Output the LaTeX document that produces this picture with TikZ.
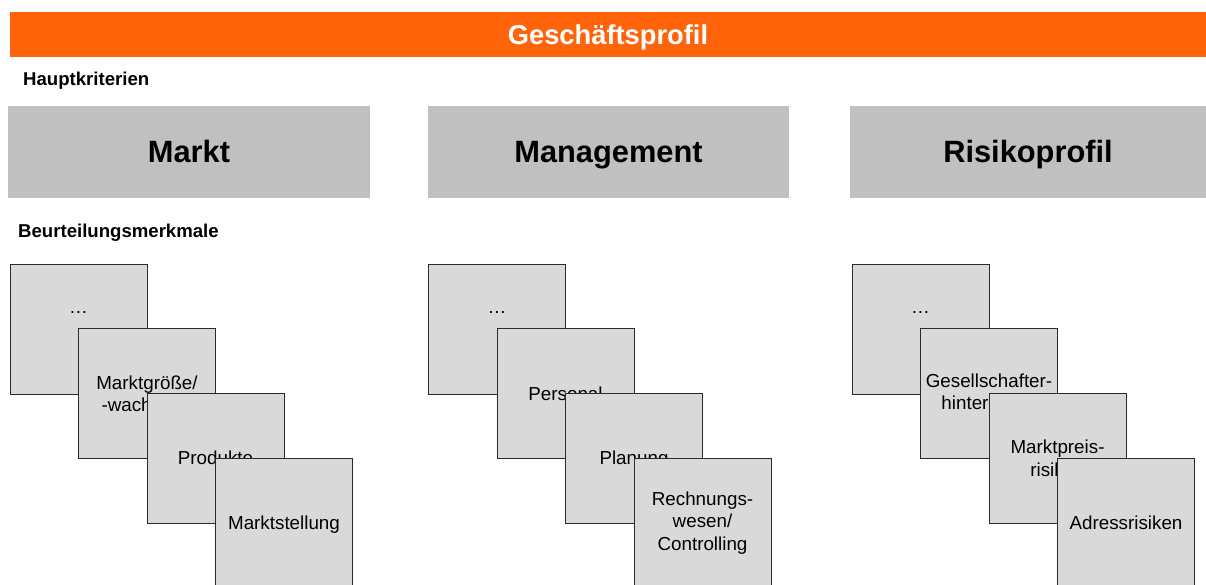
\documentclass[tikz,border=0pt]{standalone}
\usepackage{fontspec}
\setmainfont{Liberation Sans}
\definecolor{orangebar}{HTML}{FF640A}
\definecolor{bigbox}{HTML}{C0C0C0}
\definecolor{smallbox}{HTML}{D9D9D9}
\definecolor{edge}{HTML}{2A2A2A}
\begin{document}
\begin{tikzpicture}[x=1pt,y=-1pt,
  titlebar/.style={fill=orangebar,minimum width=1196pt,minimum height=45pt,inner sep=0pt,outer sep=0pt,anchor=north west,text=white,text height=20pt,text depth=0pt,font=\bfseries\fontsize{27.3}{30}\selectfont},
  crit/.style={fill=bigbox,minimum height=92pt,inner sep=0pt,outer sep=0pt,anchor=north west,text height=22pt,text depth=0pt,font=\bfseries\fontsize{30.8}{34}\selectfont},
  sect/.style={anchor=base west,inner sep=0pt,font=\bfseries\fontsize{18.6}{22}\selectfont},
  feat/.style={draw=edge,line width=0.85pt,fill=smallbox,minimum width=137pt,minimum height=130pt,inner sep=0pt,outer sep=0pt,anchor=north west,align=center,font=\fontsize{18.8}{22.3}\selectfont},
  oneline/.style={text height=13pt,text depth=0pt}
]
\useasboundingbox (0,0) rectangle (1206,585);
\clip (0,0) rectangle (1206,585);
\fill[white] (0,0) rectangle (1206,585);

\node[titlebar] (title) at (10,12) {Geschäftsprofil};
\node[sect] (haupt) at (23,86) {Hauptkriterien};
\node[crit,minimum width=362pt] (markt) at (8,106) {Markt};
\node[crit,minimum width=361pt] (mgmt) at (428,106) {Management};
\node[crit,minimum width=356pt] (risk) at (850,106) {Risikoprofil};
\node[sect] (beurt) at (18,237) {Beurteilungsmerkmale};

% Markt
\node[feat] (m1) at (10,264) {\raisebox{16pt}[0pt][0pt]{…}};
\node[feat] (m2) at (78.5,328.7) {Marktgröße/\\-wachstum};
\node[feat,oneline] (m3) at (147,393.4) {Produkte};
\node[feat,oneline] (m4) at (215.5,458.1) {Marktstellung};

% Management
\node[feat] (g1) at (428.5,264) {\raisebox{16pt}[0pt][0pt]{…}};
\node[feat,oneline] (g2) at (497,328.7) {Personal};
\node[feat,oneline] (g3) at (565.5,393.4) {Planung};
\node[feat] (g4) at (634,458.1) {Rechnungs-\\wesen/\\Controlling};

% Risikoprofil
\node[feat] (r1) at (852,264) {\raisebox{16pt}[0pt][0pt]{…}};
\node[feat] (r2) at (920.5,328.7) {Gesellschafter-\\hintergrund};
\node[feat] (r3) at (989,393.4) {Marktpreis-\\risiken};
\node[feat,oneline] (r4) at (1057.5,458.1) {Adressrisiken};
\end{tikzpicture}
\end{document}
